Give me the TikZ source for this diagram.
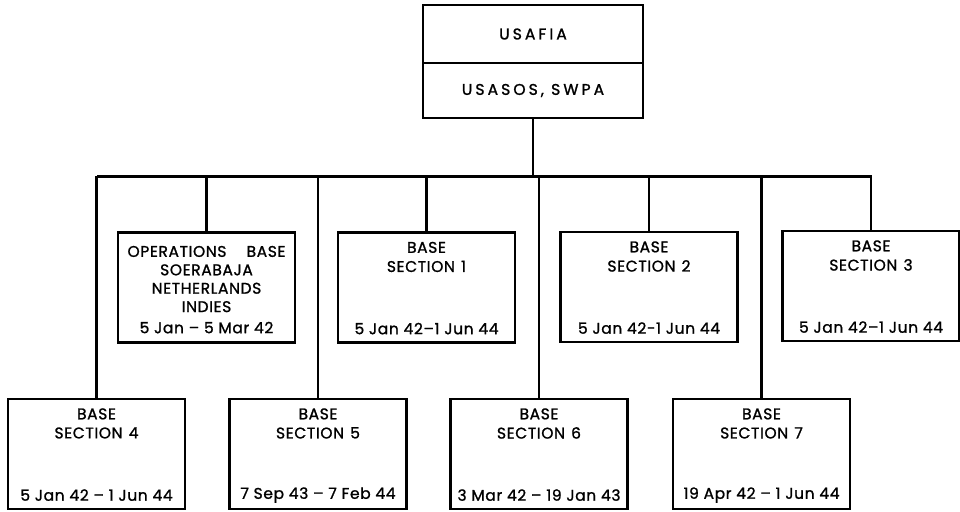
\documentclass[tikz,border=0pt]{standalone}
\usepackage{fontspec}
\newfontfamily\lettering[LetterSpace=4, FakeBold=1.2]{Poppins}
\newfontfamily\wideletters[LetterSpace=20, FakeBold=1.4]{Poppins}
\usetikzlibrary{positioning}

\begin{document}
\begin{tikzpicture}[
  x=1pt, y=-1pt,
  font=\lettering\fontsize{15.5}{18}\selectfont, % Beschriftung
  box/.style={draw, line width=2.2pt, minimum width=177pt, minimum height=110pt, inner sep=0pt},
  headbox/.style={draw, line width=2.2pt, minimum width=220pt, inner sep=0pt},
  line/.style={line width=2.4pt},
  ]
\useasboundingbox (0,0) rectangle (960,511);
% Spitze
\node[headbox, minimum height=58pt] (usafia) at (533,34) {};
\node[headbox, minimum height=55pt] (usasos) at (533,90.5) {};
\node[font=\wideletters\fontsize{15.5}{18}\selectfont] (usafiatxt) at (usafia.center) {USAFIA};
\node[font=\wideletters\fontsize{15.5}{18}\selectfont] (usasostxt) at (usasos.center) {USASOS, SWPA};
% Sammelschiene
\coordinate (busL) at (97,176);
\coordinate (busR) at (872,176);
\draw[line width=3pt] (busL) -- (busR);
\draw[line] (usasos.south) -- (usasos.south |- busL);
% Operations Base
\node[box] (ops) at (206.5,287.5) {};
\draw[line] (ops.north) -- (ops.north |- busL);
\node[align=center, font=\lettering\fontsize{15.5}{18.4}\selectfont] (opstxt) at ([yshift=-11pt]ops.north) [below] {OPERATIONS\hspace{1.3em}BASE\\SOERABAJA\\NETHERLANDS\\INDIES};
\path (ops.south) ++(0,-16) node (opsdate) {5 Jan – 5 Mar 42};
% Base Sections
\foreach \n/\px/\py/\dat in {
  1/426.5/287.5/{5 Jan 42–1 Jun 44},
  2/649/287/{5 Jan 42-1 Jun 44},
  3/871/286/{5 Jan 42–1 Jun 44},
  4/96.5/454/{5 Jan 42 – 1 Jun 44},
  5/318/454/{7 Sep 43 – 7 Feb 44},
  6/539/454/{3 Mar 42 – 19 Jan 43},
  7/761.5/454/{19 Apr 42 – 1 Jun 44}}{
  \node[box] (s\n) at (\px,\py) {};
  \draw[line] (s\n.north) -- (s\n.north |- busL);
  \path (s\n.north) ++(0,16) node (s\n base) {BASE};
  \path (s\n.north) ++(0,35) node (s\n sec) {SECTION\hspace{0.4em}\n};
  \path (s\n.south) ++(0,-15) node (s\n date) {\dat};
}
\end{tikzpicture}
\end{document}
